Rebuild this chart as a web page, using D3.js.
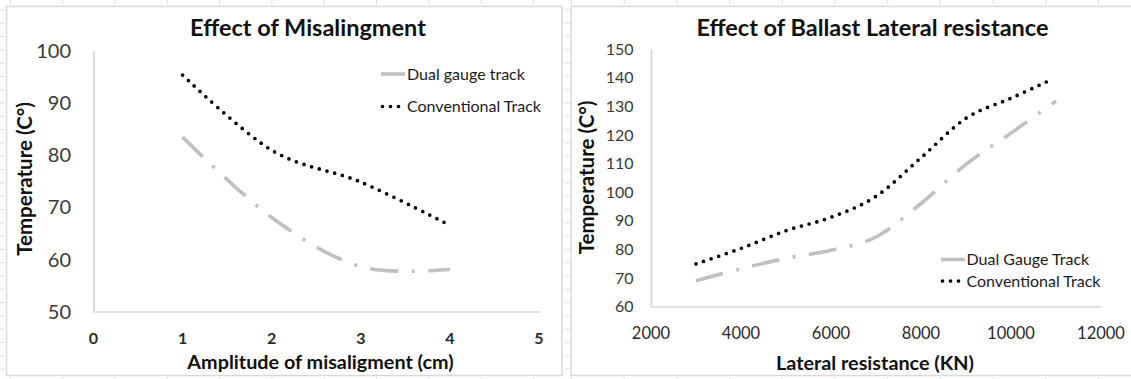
<!DOCTYPE html>
<html>
<head>
<meta charset="utf-8">
<script src="https://cdn.jsdelivr.net/npm/d3@7"></script>
<style>
  html, body { margin: 0; padding: 0; background: #fff; }
  svg { display: block; font-family: Lato, "Open Sans", sans-serif; }
</style>
</head>
<body>
<svg id="chart" width="1131" height="379"></svg>
<script>
// ---------- Data: left chart (Effect of Misalingment) ----------
const misTitle = "Effect of Misalingment";
const misXTitle = "Amplitude of misaligment (cm)";
const misYTitle = "Temperature (C\u00B0)";
const misXTicks = [0, 1, 2, 3, 4, 5];
const misYTicks = [50, 60, 70, 80, 90, 100];
const misAmplitude = [1, 2, 3, 4];
const misDual = [83.4, 68, 58.6, 58.1];
const misConv = [95.3, 80.9, 74.8, 66.5];
const misLegend = ["Dual gauge track", "Conventional Track"];

// ---------- Data: right chart (Effect of Ballast Lateral resistance) ----------
const balTitle = "Effect of Ballast Lateral resistance";
const balXTitle = "Lateral resistance (KN)";
const balYTitle = "Temperature (C\u00B0)";
const balXTicks = [2000, 4000, 6000, 8000, 10000, 12000];
const balYTicks = [60, 70, 80, 90, 100, 110, 120, 130, 140, 150];
const balDualX = [3000, 4000, 5000, 6000, 7000, 8000, 9000, 10000, 11000];
const balDual = [69, 73.2, 76.8, 79.7, 84.3, 96, 109.7, 120.6, 131.8];
const balConvX = [3000, 4000, 5000, 6000, 7000, 8000, 9000, 10000, 10870];
const balConv = [74.9, 80.3, 86.5, 91.2, 98.5, 112, 125.8, 132.8, 139.1];
const balLegend = ["Dual Gauge Track", "Conventional Track"];

const svg = d3.select("#chart");
svg.append("rect").attr("width", 1131).attr("height", 379).attr("fill", "#fff");

// faint spreadsheet cell grid marks outside chart frames
const gridCol = "#dde2ea";
const deco = svg.append("g").attr("stroke", gridCol).attr("stroke-width", 1);
for (let x = 10.4; x < 562; x += 52.3) {
  deco.append("line").attr("x1", x).attr("x2", x).attr("y1", 0).attr("y2", 5);
  deco.append("line").attr("x1", x).attr("x2", x).attr("y1", 377).attr("y2", 379);
}
for (let x = 887.7 - 52.7 * 6; x < 1131; x += 52.7) {
  if (x < 571) continue;
  deco.append("line").attr("x1", x).attr("x2", x).attr("y1", 0).attr("y2", 5);
  deco.append("line").attr("x1", x).attr("x2", x).attr("y1", 377).attr("y2", 379);
}
for (let y = 10; y < 379; y += 13.3) {
  deco.append("line").attr("x1", 0).attr("x2", 5).attr("y1", y).attr("y2", y);
  deco.append("line").attr("x1", 565).attr("x2", 570).attr("y1", y).attr("y2", y);
}

function frame(x0, x1) {
  svg.append("rect")
    .attr("x", x0).attr("y", 6.5)
    .attr("width", x1 - x0).attr("height", 369)
    .attr("fill", "#fff").attr("stroke", "#d9d9d9").attr("stroke-width", 1.5);
}
frame(6.5, 562);
frame(571, 1140);

const dualStyle = { stroke: "#c0c0c0", width: 3.6, dash: "28 13.5 3 13.5", cap: "butt" };
const convStyle = { stroke: "#000", width: 3.7, dash: "0 8", cap: "round" };

function drawChart(cfg) {
  const g = svg.append("g");
  const x = d3.scaleLinear().domain(cfg.xDomain).range(cfg.xRange);
  const y = d3.scaleLinear().domain(cfg.yDomain).range(cfg.yRange);

  // axes (lines only, no tick marks)
  const xAxis = d3.axisBottom(x).tickValues(cfg.xTicks).tickSize(0).tickFormat("");
  const yAxis = d3.axisLeft(y).tickValues(cfg.yTicks).tickSize(0).tickFormat("");
  const gx = g.append("g").attr("transform", `translate(0,${cfg.yRange[0]})`).call(xAxis);
  const gy = g.append("g").attr("transform", `translate(${cfg.xRange[0]},0)`).call(yAxis);
  [gx, gy].forEach(a => a.select(".domain").attr("stroke", "#d4d4d4").attr("stroke-width", 1.6));

  // tick labels
  g.selectAll(".ylab").data(cfg.yTicks).join("text")
    .attr("x", cfg.yLabX).attr("y", d => y(d) + cfg.yLabDy)
    .attr("text-anchor", "end")
    .attr("font-size", cfg.yLabSize).attr("fill", "#3a3a3a")
    .text(d => d);
  g.selectAll(".xlab").data(cfg.xTicks).join("text")
    .attr("x", d => x(d)).attr("y", cfg.xLabY)
    .attr("text-anchor", "middle")
    .attr("font-size", cfg.xLabSize).attr("font-weight", cfg.xLabWeight).attr("fill", "#2a2a2a")
    .text(d => d);

  // titles
  g.append("text").attr("x", cfg.titleX).attr("y", 35.5).attr("text-anchor", "middle")
    .attr("font-size", 23.5).attr("font-weight", 700).attr("fill", "#111").text(cfg.title);
  g.append("text").attr("x", cfg.xTitleX).attr("y", cfg.xTitleY).attr("text-anchor", "middle")
    .attr("font-size", 19.8).attr("font-weight", 700).attr("fill", "#111").text(cfg.xTitle);
  g.append("text").attr("transform", `translate(${cfg.yTitleX},${cfg.yTitleY}) rotate(-90)`)
    .attr("text-anchor", "middle")
    .attr("font-size", 20.5).attr("font-weight", 700).attr("fill", "#111").text(cfg.yTitle);

  // series
  const line = d3.line().x(d => x(d[0])).y(d => y(d[1])).curve(d3.curveCardinal.tension(0));
  cfg.series.forEach(s => {
    g.append("path").datum(d3.zip(s.xs, s.ys))
      .attr("d", line).attr("fill", "none")
      .attr("stroke", s.style.stroke).attr("stroke-width", s.style.width)
      .attr("stroke-dasharray", s.style.dash).attr("stroke-linecap", s.style.cap);
  });

  // legend
  cfg.series.forEach((s, i) => {
    const ly = cfg.legY[i];
    if (s.style === dualStyle) {
      g.append("line").attr("x1", cfg.legX).attr("x2", cfg.legX + 24).attr("y1", ly).attr("y2", ly)
        .attr("stroke", s.style.stroke).attr("stroke-width", s.style.width);
    } else {
      g.append("line").attr("x1", cfg.legX + 1.5).attr("x2", cfg.legX + 18).attr("y1", ly).attr("y2", ly)
        .attr("stroke", s.style.stroke).attr("stroke-width", s.style.width)
        .attr("stroke-dasharray", s.style.dash).attr("stroke-linecap", s.style.cap);
    }
    g.append("text").attr("x", cfg.legTextX).attr("y", ly + 5.5)
      .attr("font-size", cfg.legSize).attr("fill", "#1a1a1a").text(s.name);
  });
}

drawChart({
  xDomain: [0, 5], xRange: [93.5, 539],
  yDomain: [50, 100], yRange: [311.5, 50.5],
  xTicks: misXTicks, yTicks: misYTicks,
  yLabX: 71, yLabDy: 7.2, yLabSize: 20,
  xLabY: 343.5, xLabSize: 16, xLabWeight: 700,
  title: misTitle, titleX: 308,
  xTitle: misXTitle, xTitleX: 320.5, xTitleY: 368.5,
  yTitle: misYTitle, yTitleX: 32, yTitleY: 179,
  legX: 381, legTextX: 407, legY: [74, 106.5], legSize: 16,
  series: [
    { name: misLegend[0], xs: misAmplitude, ys: misDual, style: dualStyle },
    { name: misLegend[1], xs: misAmplitude, ys: misConv, style: convStyle }
  ]
});

drawChart({
  xDomain: [2000, 12000], xRange: [651, 1101],
  yDomain: [60, 150], yRange: [306.5, 49],
  xTicks: balXTicks, yTicks: balYTicks,
  yLabX: 633.5, yLabDy: 5.8, yLabSize: 16,
  xLabY: 338.5, xLabSize: 16.5, xLabWeight: 400,
  title: balTitle, titleX: 872.5,
  xTitle: balXTitle, xTitleX: 875, xTitleY: 369.5,
  yTitle: balYTitle, yTitleX: 594, yTitleY: 177.5,
  legX: 941, legTextX: 966.5, legY: [259.5, 281], legSize: 16,
  series: [
    { name: balLegend[0], xs: balDualX, ys: balDual, style: dualStyle },
    { name: balLegend[1], xs: balConvX, ys: balConv, style: convStyle }
  ]
});
</script>
</body>
</html>
